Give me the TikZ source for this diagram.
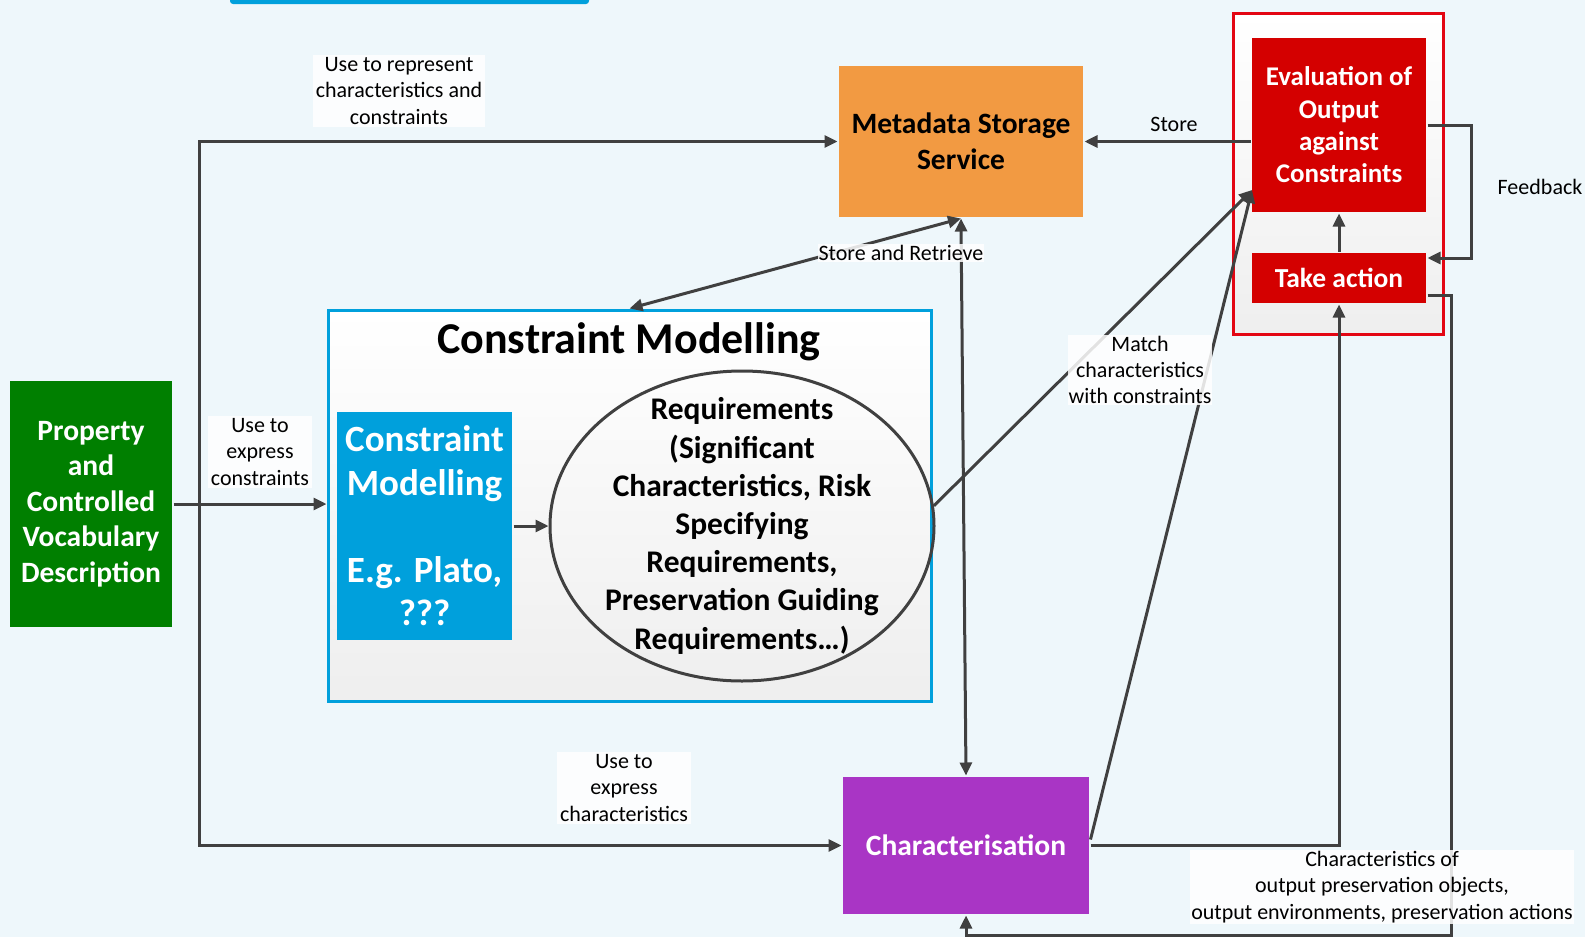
\documentclass[tikz,border=0pt]{standalone}
\usepackage{fontspec}
\setmainfont{Carlito}
\usepackage{tikz}
\usetikzlibrary{shapes}
\usetikzlibrary{positioning}
\usetikzlibrary{calc}
\usetikzlibrary{arrows.meta}
\definecolor{cmgreen}{HTML}{007F00}
\definecolor{cmblue}{HTML}{00A0DC}
\definecolor{cmorange}{HTML}{F29A42}
\definecolor{cmpurple}{HTML}{A935C5}
\definecolor{cmred}{HTML}{D40000}
\definecolor{framered}{HTML}{E30613}
\definecolor{linegray}{HTML}{404040}
\definecolor{bgblue}{HTML}{EEF7FB}
\tikzstyle{box} = [rectangle,align=center,inner sep=0pt,text=white,font=\bfseries\fontsize{29.5}{35.6}\selectfont]
\tikzstyle{frame} = [rectangle,line width=3pt,top color=white,bottom color=gray!13]
\tikzstyle{lbl} = [align=center,fill=white,fill opacity=0.85,text opacity=1,inner sep=3pt]

\begin{document}
\begin{tikzpicture}
	[x=1pt,y=-1pt,font=\fontsize{22}{26.3}\selectfont,node distance=35pt,
	 >={Triangle[length=13pt,width=12pt]},line width=3pt]
	\tikzstyle{arrow}=[->,draw=linegray];
	\tikzstyle{both}=[<->,draw=linegray];

	\fill[bgblue] (0,0) rectangle (1585,937);
	\useasboundingbox (0,0) rectangle (1585,937);
	\fill[cmblue,rounded corners=3pt] (230,-6) rectangle (589,4);

	% frames
	\node (cmframe) [frame,draw=cmblue,minimum width=603pt,minimum height=391pt] at (629.5,505.5) {};
	\node (title) [font=\bfseries\fontsize{44}{48}\selectfont] at (629,342) {Constraint Modelling};
	\node (redframe) [frame,draw=framered,minimum width=210pt,minimum height=321pt] at (1338,173.5) {};

	% boxes
	\node (prop) [box,fill=cmgreen,minimum width=162pt,minimum height=246pt] at (91,504)
		{Property\\and\\Controlled\\Vocabulary\\Description};
	\node (cm) [box,fill=cmblue,minimum width=175pt,minimum height=228pt,
		font=\bfseries\fontsize{37}{43.5}\selectfont] at (424.5,526)
		{Constraint\\Modelling\\[43.5pt]E.g. Plato,\\???};
	\node (req) [ellipse,draw=linegray,right=35pt of cm,minimum width=384pt,minimum height=310pt,
		inner sep=0pt] {};
	\node (reqtext) [align=center,font=\bfseries\fontsize{31.5}{38.2}\selectfont] at (req)
		{Requirements\\(Significant\\Characteristics, Risk\\Specifying\\Requirements,\\Preservation Guiding\\Requirements…)};
	\node (meta) [box,fill=cmorange,text=black,minimum width=244pt,minimum height=151pt] at (961,141.5)
		{Metadata Storage\\Service};
	\node (eval) [box,fill=cmred,minimum width=174pt,minimum height=174pt,
		font=\bfseries\fontsize{27}{32.4}\selectfont] at (1339,125)
		{Evaluation of\\Output\\against\\Constraints};
	\node (act) [box,fill=cmred,below=38pt of eval,minimum width=174pt,minimum height=50pt,
		font=\bfseries\fontsize{27.5}{30}\selectfont] {Take action};
	\node (char) [box,fill=cmpurple,minimum width=246pt,minimum height=137pt] at (966,845.5)
		{Characterisation};

	\coordinate (bus) at (199,504);
	\coordinate (evin) at (1252,190);
	\coordinate (fb) at (1471,258);
	\coordinate (ret) at (1451,935);

	% connectors
	\draw[arrow] (prop.east) -- (prop.east -| cmframe.west);
	\draw[arrow] (bus) |- (meta.west);
	\draw[arrow] (bus) |- (char.west);
	\draw[arrow] (cm.east) -- (req.west);
	\draw[both] (cmframe.north) -- (meta.south);
	\draw[both] (meta.south) -- (char.north);
	\draw[arrow] (req.6) -- (evin);
	\draw[arrow] ([yshift=6pt]char.east) -- (evin);
	\draw[arrow] (char.east) -| (act.south);
	\draw[arrow] (eval.west |- meta.east) -- (meta.east);
	\draw[arrow] (act.north) -- (eval.south);
	\draw[arrow] (eval.east) -| (fb) -- (fb -| act.east);
	\draw[arrow] ([yshift=-17pt]act.east) -| (ret) -| (char.south);

	% labels
	\node (l1) [lbl] at (399,91) {Use to represent\\characteristics and\\constraints};
	\node (l2) [lbl] at (260,452) {Use to\\express\\constraints};
	\node (l3) [lbl] at (624,788) {Use to\\express\\characteristics};
	\node (l4) [lbl,inner sep=1pt] at (901,253) {Store and Retrieve};
	\node (l5) [lbl,inner sep=1pt] at (1140,370) {Match\\characteristics\\with constraints};
	\node (l6) at (1174,124) {Store};
	\node (l7) at (1540,187) {Feedback};
	\node (l8) [lbl,inner sep=1pt] at (1382,887)
		{Characteristics of\\output preservation objects,\\output environments, preservation actions};
\end{tikzpicture}
\end{document}
